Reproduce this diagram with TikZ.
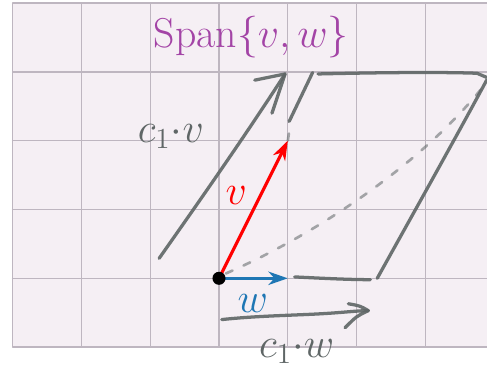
\documentclass[tikz,border=0pt]{standalone}
\usetikzlibrary{arrows.meta}
\definecolor{paper}{RGB}{245,239,244}
\definecolor{gridgray}{RGB}{190,182,192}
\definecolor{pencil}{RGB}{95,102,102}
\definecolor{spanpurple}{RGB}{163,68,166}
\definecolor{wblue}{RGB}{31,119,180}

\begin{document}
\begin{tikzpicture}[line cap=round,line join=round,
  pencil stroke/.style={draw=pencil,line width=1.35pt,opacity=0.9},
  pencil dash/.style={draw=pencil,line width=1.1pt,opacity=0.55,dash pattern=on 3pt off 5pt},
  pencil text/.style={text=pencil,font=\LARGE},
  vec/.style={line width=1.3pt,-{Stealth[length=8pt,width=5.5pt,inset=2.5pt]}}]
  \useasboundingbox (-3.183,-1.347) rectangle (3.895,4.045);
  % squared paper
  \fill[paper] (-3,-1) rectangle (3.895,4);
  \draw[gridgray,line width=0.55pt] (-3,-1) grid (3.895,4);
  % points
  \coordinate (O) at (0,0);
  \coordinate (vtip) at (1,2);
  \coordinate (wtip) at (1,0);
  % title
  \node[text=spanpurple,font=\LARGE] (span) at (0.47,3.50) {Span$\{v,w\}$};
  % sketched parallelogram
  \draw[pencil dash] (0.10,0.07) .. controls (1.5,0.68) and (3.0,1.72) .. (3.85,2.80);
  \draw[pencil dash] (vtip) -- (1.04,2.26);
  \draw[pencil stroke] (1.02,2.28) -- (1.36,2.99);
  \draw[pencil stroke] (1.44,2.97) .. controls (2.3,2.99) and (3.2,3.00) .. (3.75,2.98) -- (3.89,2.92);
  \draw[pencil stroke] (3.89,2.88) .. controls (3.5,2.15) and (2.8,0.9) .. (2.30,0.00);
  \draw[pencil stroke] (1.10,0.02) .. controls (1.5,0.00) and (1.9,-0.02) .. (2.20,-0.02);
  % sketched c1 v
  \draw[pencil stroke] (-0.87,0.29) .. controls (-0.3,1.1) and (0.4,2.1) .. (0.96,2.97);
  \draw[pencil stroke] (0.52,2.88) -- (0.96,2.97) -- (0.77,2.40);
  \node[pencil text] (cv) at (-0.70,2.06) {$c_1{\cdot}v$};
  % sketched c1 w
  \draw[pencil stroke] (0.04,-0.60) .. controls (0.5,-0.55) and (1.0,-0.54) .. (1.4,-0.52)
    .. controls (1.8,-0.50) and (2.0,-0.47) .. (2.17,-0.47);
  \draw[pencil stroke] (1.88,-0.37) .. controls (2.05,-0.40) .. (2.17,-0.47)
    .. controls (2.0,-0.55) .. (1.83,-0.72);
  \node[pencil text] (cw) at (1.13,-1.06) {$c_1{\cdot}w$};
  % vectors
  \draw[vec,red] (O) -- (vtip);
  \draw[vec,wblue] (O) -- (wtip);
  \node[text=red,font=\LARGE] (vlabel) at (0.25,1.21) {$v$};
  \node[text=wblue,font=\LARGE] (wlabel) at (0.49,-0.36) {$w$};
  \fill (O) circle (0.095);
\end{tikzpicture}
\end{document}
